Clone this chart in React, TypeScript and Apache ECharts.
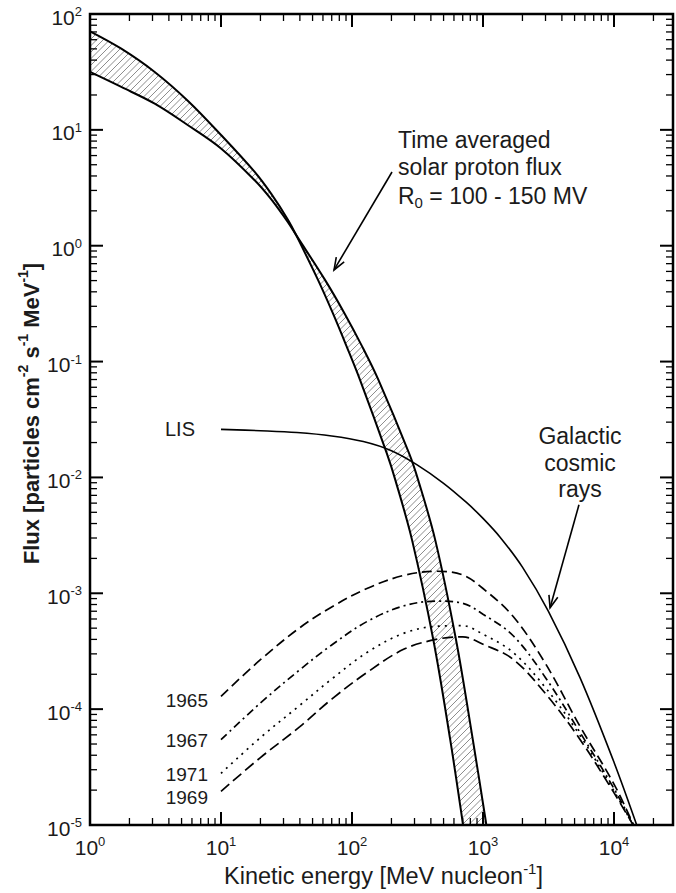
import React, { useEffect, useRef } from "react";
import * as echarts from "echarts";

const FONT = "'Liberation Sans', Arial, Helvetica, sans-serif";
const INK = "#1b1b1b";

// Axis extents (log–log)
const X_MIN = 1;
const X_MAX = 28200;
const Y_MIN = 1e-5;
const Y_MAX = 100;

const X_DECADES = [1, 10, 100, 1000, 10000];
const X_DECADE_EXP = ["0", "1", "2", "3", "4"];
const Y_DECADES = [1e-5, 1e-4, 1e-3, 1e-2, 1e-1, 1, 10, 100];
const Y_DECADE_EXP = ["-5", "-4", "-3", "-2", "-1", "0", "1", "2"];

// Time averaged solar proton flux: steeper edge of the band (R0 = 100 MV)
const solarSteepE = [1, 1.733, 3.118, 5.6, 10.05, 18.08, 24.2, 32.5, 37.4, 55.0, 71.4, 91.1, 115.1, 184.1, 214.0, 287.1, 417.5, 561.9, 688.8, 703.6];
const solarSteepF = [70.9, 50.2, 31.6, 17.76, 8.98, 4.33, 2.8, 1.67, 1.24, 0.507, 0.2616, 0.1347, 0.0695, 0.0162, 0.00953, 0.00289, 3.97e-4, 5.45e-5, 1.19e-5, 1.0e-5];

// Flatter edge of the band (R0 = 150 MV)
const solarFlatE = [1, 1.733, 3.118, 5.6, 10.05, 18.08, 24.2, 32.5, 37.4, 62.2, 87.5, 119.7, 159.1, 272.3, 319.6, 431.6, 622.2, 835.9, 1035.8, 1059.8];
const solarFlatF = [31.6, 23.45, 16.83, 10.96, 6.88, 3.67, 2.51, 1.589, 1.24, 0.507, 0.2616, 0.1347, 0.0695, 0.0162, 0.00953, 0.00289, 3.97e-4, 5.45e-5, 1.19e-5, 1.0e-5];

// Local interstellar spectrum of galactic cosmic rays
const lisE = [10, 20, 38, 70, 122, 200, 312, 500, 751, 1000, 1350, 2000, 3150, 5500, 9880, 14900];
const lisF = [0.026, 0.0253, 0.0244, 0.0228, 0.0204, 0.017, 0.0129, 0.0089, 0.00605, 0.00443, 0.00305, 0.00168, 7.0e-4, 1.87e-4, 3.6e-5, 1.0e-5];

// Modulated galactic cosmic ray spectra at 1 AU
const modE = [10, 20, 40, 70, 130, 250, 450, 700, 1000, 1700, 3000, 5500, 9900, 14000];
const mod1965 = [1.29e-4, 2.67e-4, 5.05e-4, 7.62e-4, 1.1e-3, 1.43e-3, 1.55e-3, 1.44e-3, 1.1e-3, 6.3e-4, 2.47e-4, 7.1e-5, 2.3e-5, 1.02e-5];
const mod1967 = [5.45e-5, 1.13e-4, 2.19e-4, 3.58e-4, 5.7e-4, 7.8e-4, 8.55e-4, 8.2e-4, 6.6e-4, 4.3e-4, 1.87e-4, 6.3e-5, 2.1e-5, 1.01e-5];
const mod1971 = [2.79e-5, 5.68e-5, 1.08e-4, 1.82e-4, 3.08e-4, 4.53e-4, 5.2e-4, 5.25e-4, 4.43e-4, 3.08e-4, 1.53e-4, 5.93e-5, 2.0e-5, 1.0e-5];
const mod1969 = [1.95e-5, 3.82e-5, 7.06e-5, 1.22e-4, 2.07e-4, 3.3e-4, 4.02e-4, 4.21e-4, 3.63e-4, 2.69e-4, 1.36e-4, 5.48e-5, 1.93e-5, 1.0e-5];

const modulated = [
  { year: "1965", values: mod1965 },
  { year: "1967", values: mod1967 },
  { year: "1971", values: mod1971 },
  { year: "1969", values: mod1969 },
];

// Drawing styles for each modulated curve (dash pattern, label nudge in px)
const modStyle: Record<string, { dash: number[]; nudge: number }> = {
  "1965": { dash: [10, 5], nudge: 4 },
  "1967": { dash: [8, 4, 2, 4], nudge: 1 },
  "1971": { dash: [2, 5], nudge: 1 },
  "1969": { dash: [11, 5], nudge: 6 },
};

// Annotation arrows (tail -> head), in data coordinates
const solarArrow = { from: [202, 4.33], to: [72.9, 0.618] };
const gcrArrow = { from: [5400, 5.8e-3], to: [3250, 7.5e-4] };

const zip = (xs: number[], ys: number[]) => xs.map((x, i) => [x, ys[i]]);

function minorTicks(decades: number[], lo: number, hi: number) {
  const out: number[] = [];
  decades.forEach((d) => {
    for (let m = 2; m <= 9; m++) {
      const v = d * m;
      if (v > lo && v < hi) out.push(v);
    }
  });
  return out;
}

function seg(x1: number, y1: number, x2: number, y2: number, w: number, color = "#000") {
  return { type: "line", shape: { x1, y1, x2, y2 }, style: { stroke: color, lineWidth: w } };
}

function arrowEls(from: number[], to: number[]) {
  const ang = Math.atan2(from[1] - to[1], from[0] - to[0]);
  const L = 13;
  const spread = 0.36;
  const a1 = [to[0] + L * Math.cos(ang + spread), to[1] + L * Math.sin(ang + spread)];
  const a2 = [to[0] + L * Math.cos(ang - spread), to[1] + L * Math.sin(ang - spread)];
  return [
    seg(from[0], from[1], to[0], to[1], 1.6),
    { type: "polyline", shape: { points: [a1, to, a2] }, style: { stroke: "#000", lineWidth: 1.6, fill: "none" } },
  ];
}

function text(x: number, y: number, str: string, opts: any = {}) {
  return {
    type: "text",
    x,
    y,
    rotation: opts.rotation || 0,
    style: {
      text: str,
      fill: INK,
      fontFamily: FONT,
      fontSize: opts.fontSize || 20,
      align: opts.align || "left",
      verticalAlign: "middle",
      rich: opts.rich,
    },
  };
}

const tickRich = {
  b: { fontSize: 21, lineHeight: 24, fontFamily: FONT, fill: INK },
  s: { fontSize: 13, lineHeight: 12, verticalAlign: "top", fontFamily: FONT, fill: INK },
};

const xTitleRich = {
  t: { fontSize: 23.5, lineHeight: 30, fontFamily: FONT, fill: INK },
  s: { fontSize: 15, lineHeight: 15, verticalAlign: "top", fontFamily: FONT, fill: INK },
};

const yTitleRich = {
  t: { fontSize: 22, lineHeight: 30, fontWeight: "bold", fontFamily: FONT, fill: INK },
  s: { fontSize: 14, lineHeight: 15, fontWeight: "bold", verticalAlign: "top", fontFamily: FONT, fill: INK },
};

const noteRich = {
  m: { fontSize: 23, lineHeight: 28, fontFamily: FONT, fill: INK },
  d: { fontSize: 15, lineHeight: 15, verticalAlign: "bottom", fontFamily: FONT, fill: INK },
};

export default function App() {
  const ref = useRef<HTMLDivElement>(null);

  useEffect(() => {
    if (!ref.current) return;
    const chart = echarts.init(ref.current, null, { renderer: "svg" });

    const xMinor = minorTicks(X_DECADES, X_MIN, X_MAX);
    const yMinor = minorTicks(Y_DECADES.slice(0, -1), Y_MIN, Y_MAX);

    // Axis frame, ticks on all four sides, tick labels and axis titles
    const renderFrame = (_params: any, api: any) => {
      const [x0, y0] = api.coord([X_MIN, Y_MAX]);
      const [x1, y1] = api.coord([X_MAX, Y_MIN]);
      const els: any[] = [];
      const MAJ = 13;
      const MIN = 7;
      X_DECADES.forEach((v, i) => {
        const x = api.coord([v, Y_MIN])[0];
        els.push(seg(x, y1, x, y1 - MAJ, 2));
        els.push(seg(x, y0, x, y0 + MAJ, 2));
        els.push(
          text(x, y1 + 22, `{b|10}{s|${X_DECADE_EXP[i]}}`, { align: "center", rich: tickRich })
        );
      });
      xMinor.forEach((v) => {
        const x = api.coord([v, Y_MIN])[0];
        els.push(seg(x, y1, x, y1 - MIN, 1.3));
        els.push(seg(x, y0, x, y0 + MIN, 1.3));
      });
      Y_DECADES.forEach((v, i) => {
        const y = api.coord([X_MIN, v])[1];
        els.push(seg(x0, y, x0 + MAJ, y, 2));
        els.push(seg(x1, y, x1 - MAJ, y, 2));
        els.push(
          text(x0 - 8, y + 3, `{b|10}{s|${Y_DECADE_EXP[i]}}`, { align: "right", rich: tickRich })
        );
      });
      yMinor.forEach((v) => {
        const y = api.coord([X_MIN, v])[1];
        els.push(seg(x0, y, x0 + MIN, y, 1.3));
        els.push(seg(x1, y, x1 - MIN, y, 1.3));
      });
      els.push({
        type: "rect",
        shape: { x: x0, y: y0, width: x1 - x0, height: y1 - y0 },
        style: { fill: "none", stroke: "#000", lineWidth: 2.5 },
      });
      els.push(
        text((x0 + x1) / 2 + 2, y1 + 51, "{t|Kinetic energy [MeV nucleon}{s|-1}{t|]}", {
          align: "center",
          rich: xTitleRich,
        })
      );
      els.push(
        text(31, (y0 + y1) / 2 - 6, "{t|Flux [particles cm}{s|-2}{t| s}{s|-1}{t| MeV}{s|-1}{t|]}", {
          align: "center",
          rich: yTitleRich,
          rotation: Math.PI / 2,
        })
      );
      return { type: "group", children: els };
    };

    // Diagonal hatching inside the solar proton band
    const renderBand = (_params: any, api: any) => {
      const steep = zip(solarSteepE, solarSteepF).map((p) => api.coord(p));
      const flat = zip(solarFlatE, solarFlatF).map((p) => api.coord(p));
      const poly = steep.concat(flat.slice().reverse());
      const n = poly.length;
      const sums = poly.map((p: number[]) => p[0] + p[1]);
      const cMin = Math.min(...sums);
      const cMax = Math.max(...sums);
      const step = 6.5;
      const els: any[] = [];
      for (let c = Math.ceil(cMin / step) * step; c < cMax; c += step) {
        const xs: number[] = [];
        for (let i = 0; i < n; i++) {
          const p = poly[i];
          const q = poly[(i + 1) % n];
          const f1 = p[0] + p[1] - c;
          const f2 = q[0] + q[1] - c;
          if (f1 < 0 !== f2 < 0) {
            const t = f1 / (f1 - f2);
            xs.push(p[0] + t * (q[0] - p[0]));
          }
        }
        xs.sort((a, b) => a - b);
        for (let k = 0; k + 1 < xs.length; k += 2) {
          els.push(seg(xs[k], c - xs[k], xs[k + 1], c - xs[k + 1], 0.75, "#666"));
        }
      }
      return { type: "group", children: els };
    };

    // Arrows, annotation texts and curve labels
    const renderNotes = (_params: any, api: any) => {
      const els: any[] = [];
      const sFrom = api.coord(solarArrow.from);
      const sTo = api.coord(solarArrow.to);
      els.push(...arrowEls(sFrom, sTo));
      const tx = sFrom[0] + 6;
      const ty = sFrom[1] - 32;
      els.push(text(tx, ty, "Time averaged", { fontSize: 23 }));
      els.push(text(tx, ty + 27, "solar proton flux", { fontSize: 23 }));
      els.push(text(tx, ty + 56, "{m|R}{d|0}{m| = 100 - 150 MV}", { rich: noteRich }));

      const gFrom = api.coord(gcrArrow.from);
      const gTo = api.coord(gcrArrow.to);
      els.push(...arrowEls(gFrom, gTo));
      const gx = gFrom[0] + 1;
      els.push(text(gx, gFrom[1] - 69, "Galactic", { fontSize: 23, align: "center" }));
      els.push(text(gx, gFrom[1] - 42, "cosmic", { fontSize: 23, align: "center" }));
      els.push(text(gx, gFrom[1] - 16, "rays", { fontSize: 23, align: "center" }));

      const lisStart = api.coord([lisE[0], lisF[0]]);
      els.push(text(lisStart[0] - 26, lisStart[1], "LIS", { fontSize: 20, align: "right" }));

      modulated.forEach((m) => {
        const p = api.coord([modE[0], m.values[0]]);
        els.push(text(p[0] - 13, p[1] + modStyle[m.year].nudge, m.year, { fontSize: 19, align: "right" }));
      });
      return { type: "group", children: els };
    };

    const curve = (name: string, data: number[][], width: number, type: any, z = 3) => ({
      name,
      type: "line",
      data,
      smooth: 0.35,
      symbol: "none",
      z,
      silent: true,
      lineStyle: { color: "#000", width, type },
    });

    chart.setOption({
      animation: false,
      backgroundColor: "#fff",
      grid: { left: 90, top: 14, right: 3, bottom: 68, containLabel: false },
      xAxis: { type: "log", min: X_MIN, max: X_MAX, show: false },
      yAxis: { type: "log", min: Y_MIN, max: Y_MAX, show: false },
      series: [
        { type: "custom", name: "band-hatch", renderItem: renderBand, data: [[1, 1]], z: 1, silent: true },
        curve("R0 = 100 MV", zip(solarSteepE, solarSteepF), 2, "solid"),
        curve("R0 = 150 MV", zip(solarFlatE, solarFlatF), 2, "solid"),
        curve("LIS", zip(lisE, lisF), 1.6, "solid"),
        ...modulated.map((m) => curve(m.year, zip(modE, m.values), 1.7, modStyle[m.year].dash)),
        { type: "custom", name: "frame", renderItem: renderFrame, data: [[1, 1]], z: 10, silent: true },
        { type: "custom", name: "notes", renderItem: renderNotes, data: [[1, 1]], z: 10, silent: true },
      ],
    });

    return () => chart.dispose();
  }, []);

  return (
    <div
      ref={ref}
      style={{ position: "fixed", left: 0, top: 0, width: 676, height: 893, background: "#fff" }}
    />
  );
}
